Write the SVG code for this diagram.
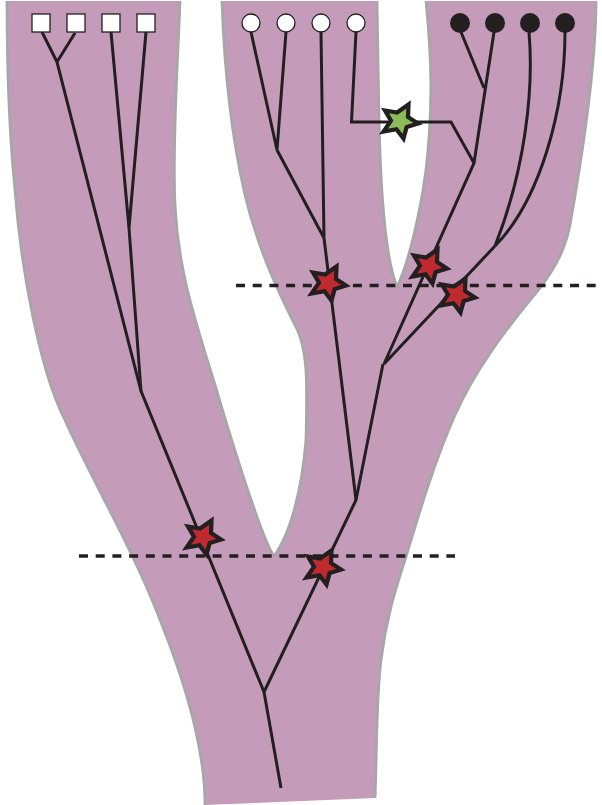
<svg xmlns="http://www.w3.org/2000/svg" width="602" height="805" viewBox="0 0 602 805">
<style>
.edge{fill:none;stroke:#231f20;stroke-width:3;stroke-linejoin:miter}
.dash{fill:none;stroke:#231f20;stroke-width:3.5;stroke-dasharray:9 7.7}
.outline{fill:none;stroke:#a7a7a7;stroke-width:2.800}
.sq{fill:#fff;stroke:#231f20;stroke-width:1.3}
.wc{fill:#fff;stroke:#231f20;stroke-width:1.3}
.bc{fill:#231f20}
.star{stroke:#231f20;stroke-width:4.200;stroke-miterlimit:12;stroke-linejoin:miter}
</style>
<defs>
<path id="s" d="M8.500 -16.500 L8 -4.100 L18 2.500 L6.600 6.100 L3.500 17.500 L-3.500 8.300 L-16.500 10.500 L-9 -0.300 L-15 -10.500 L-2.900 -8.500 Z"/>
</defs>
<g id="body">
<path fill="#c49cba" d="M7 1 C7 60 9 130 15 190 C21 270 40 370 64 418 C92 480 125 535 150 595 C175 655 205 735 205 805 L375 798 C377 750 376 700 381 660 C386 620 395 590 405 560 C420 510 435 460 455 415 C475 370 505 330 540 288 C555 268 565 250 570 225 C585 140 596 60 596 1 L426 1 C432 60 433 110 426 170 C420 215 408 265 397 287 C388 265 381 210 379 120 C378 80 378 40 377 1 L222 1 C224 60 230 130 245 195 C258 250 280 295 295 325 C309 350 307 390 306 440 C302 490 290 535 274 556 C265 545 240 470 215 385 C195 320 178 270 175 205 C172 140 178 60 180 1 Z"/>
<path class="outline" d="M7 1 C7 60 9 130 15 190 C21 270 40 370 64 418 C92 480 125 535 150 595 C175 655 205 735 205 805"/>
<path class="outline" d="M375 798 C377 750 376 700 381 660 C386 620 395 590 405 560 C420 510 435 460 455 415 C475 370 505 330 540 288 C555 268 565 250 570 225 C585 140 596 60 596 1"/>
<path class="outline" d="M426 1 C432 60 433 110 426 170 C420 215 408 265 397 287 C388 265 381 210 379 120 C378 80 378 40 377 1"/>
<path class="outline" d="M222 1 C224 60 230 130 245 195 C258 250 280 295 295 325 C309 350 307 390 306 440 C302 490 290 535 274 556 C265 545 240 470 215 385 C195 320 178 270 175 205 C172 140 178 60 180 1"/>
</g>
<g id="dashes">
<path class="dash" d="M236 285.500H596"/>
<path class="dash" d="M79 556H455"/>
</g>
<g id="connectors">
<path class="edge" d="M42 32L57 62M75 33L57 62L141 391L264 692L281 788"/>
<path class="edge" d="M111 32L129 228L146 32M129 228L141 391"/>
<path class="edge" d="M264 692L356 500L383 364"/>
<path class="edge" d="M251 32L277 150L286 32M277 150L324 238L321 32M324 238L356 500"/>
<path class="edge" d="M356 32L351.500 122H451L474 163"/>
<path class="edge" d="M461 32L484 88M494 32L474 163L384 364L495 246"/>
<path class="edge" d="M529 32C534 90 525 170 495 246M565 32C565 110 540 200 495 246"/>
</g>
<g id="tip-squares">
<rect id="a1" class="sq" x="32" y="14" width="18" height="18"/>
<rect id="a2" class="sq" x="67" y="14" width="18" height="18"/>
<rect id="a3" class="sq" x="102" y="14" width="18" height="18"/>
<rect id="a4" class="sq" x="137" y="14" width="18" height="18"/>
</g>
<g id="tip-white">
<circle id="b1" class="wc" cx="251" cy="23" r="9"/>
<circle id="b2" class="wc" cx="286" cy="23" r="9"/>
<circle id="b3" class="wc" cx="321" cy="23" r="9"/>
<circle id="b4" class="wc" cx="356" cy="23" r="9"/>
</g>
<g id="tip-black">
<circle id="c1" class="bc" cx="460" cy="23" r="10"/>
<circle id="c2" class="bc" cx="495" cy="23" r="10"/>
<circle id="c3" class="bc" cx="530" cy="23" r="10"/>
<circle id="c4" class="bc" cx="565" cy="23" r="10"/>
</g>
<g id="stars">
<use id="star-green" href="#s" class="star" fill="#8cbb5a" x="400" y="121"/>
<use id="star-1" href="#s" class="star" fill="#be2a2e" x="328" y="283"/>
<use id="star-2" href="#s" class="star" fill="#be2a2e" x="429" y="266"/>
<use id="star-3" href="#s" class="star" fill="#be2a2e" x="457" y="295"/>
<use id="star-4" href="#s" class="star" fill="#be2a2e" x="203" y="537"/>
<use id="star-5" href="#s" class="star" fill="#be2a2e" x="323" y="567"/>
</g>
</svg>
